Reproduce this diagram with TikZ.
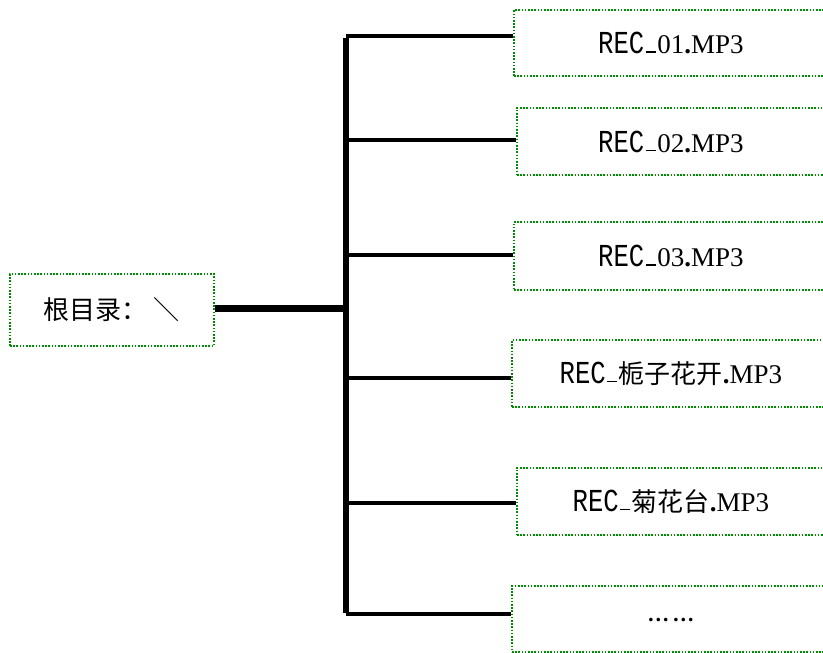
\documentclass[tikz,border=0pt]{standalone}
\usepackage{graphicx}
\usepackage{fontspec}
\setmainfont{Liberation Serif}
\newfontfamily\cjk{Noto Sans CJK SC}
\newfontfamily\recmono{Liberation Mono}
\newcommand{\recpre}{\scalebox{0.8}[1]{\recmono\fontsize{32}{34}\selectfont REC}\hspace{1.5pt}\rule[1pt]{10pt}{1.3pt}\hspace{1.5pt}}
\newcommand{\cj}[1]{{\cjk\fontsize{26}{30}\selectfont #1}}
\newcommand{\mpext}{\textbf{.}MP3}
\tikzset{
  filebox/.style={draw=green!55!black, line width=1.8pt, dash pattern=on 1.6pt off 1.6pt,
    rectangle, inner sep=0pt, anchor=west, font=\fontsize{27}{30}\selectfont},
  branch/.style={line width=3.2pt},
  trunk/.style={line width=6pt},
}
\begin{document}
\begin{tikzpicture}[x=1pt,y=-1pt]
\clip (0,0) rectangle (823,653);
\fill[white] (0,0) rectangle (823,653);
% root
\node[filebox, minimum width=204pt, minimum height=72pt] (root) at (9,310) {\cj{根目录：\hspace{6pt}＼}};
% files
\node[filebox, minimum width=314pt, minimum height=66pt] (b1) at (513,43) {\recpre 01\mpext};
\node[filebox, minimum width=308pt, minimum height=67pt] (b2) at (516,141.5) {\recpre 02\mpext};
\node[filebox, minimum width=314pt, minimum height=68pt] (b3) at (513,256) {\recpre 03\mpext};
\node[filebox, minimum width=318pt, minimum height=67pt] (b4) at (511,373.5) {\recpre\cj{栀子花开}\mpext};
\node[filebox, minimum width=308pt, minimum height=67pt] (b5) at (516,501.5) {\recpre\cj{菊花台}\mpext};
\node[filebox, minimum width=318pt, minimum height=66pt] (b6) at (511,619) {\raisebox{-5pt}{\fontsize{22}{24}\selectfont\textbf{…}\hspace{3pt}\textbf{…}}};
% trunk
\coordinate (t1) at (346,36);
\coordinate (t2) at (346,140);
\coordinate (t3) at (346,255);
\coordinate (t4) at (346,378);
\coordinate (t5) at (346,503);
\coordinate (t6) at (346,614);
\coordinate (tr) at (346,308);
\draw[trunk] ([yshift=-1.5pt]t1) -- ([yshift=1.5pt]t6);
\draw[line width=7pt] (root.east |- tr) -- (tr);
\draw[branch] (t1) -- (t1 -| b1.west);
\draw[branch] (t2) -- (t2 -| b2.west);
\draw[branch] (t3) -- (t3 -| b3.west);
\draw[branch] (t4) -- (t4 -| b4.west);
\draw[branch] (t5) -- (t5 -| b5.west);
\draw[branch] (t6) -- (t6 -| b6.west);
\end{tikzpicture}
\end{document}
